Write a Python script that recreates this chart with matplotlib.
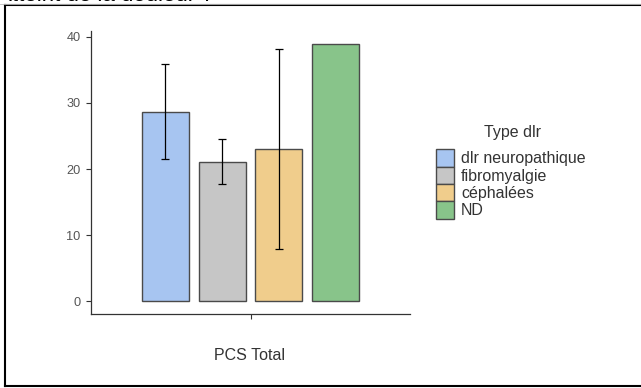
import matplotlib
matplotlib.use("Agg")
import matplotlib.pyplot as plt
from matplotlib.patches import Patch
from matplotlib.lines import Line2D

# data
types = ['dlr neuropathique', 'fibromyalgie', 'céphalées', 'ND']
means = [28.6, 21.1, 23.0, 39.0]
err_low = [21.5, 17.7, 7.9, None]
err_high = [35.9, 24.5, 38.1, None]
colors = ['#A7C5F1', '#C6C6C6', '#F0CD8C', '#88C48A']

plt.rcParams['font.family'] = ['Liberation Sans', 'DejaVu Sans']

fig = plt.figure(figsize=(6.41, 3.88), dpi=100)
ax = fig.add_axes([0.142, 0.1907, 0.4976, 0.7303])

pitch = 0.214
width = 0.177
for i, (t, m, c) in enumerate(zip(types, means, colors)):
    xc = 1 + (i - 1.5) * pitch
    ax.bar(xc, m, width=width, color=c, edgecolor='#4a4a4a', linewidth=1.0, zorder=2)
    if err_low[i] is not None:
        ax.errorbar(xc, m, yerr=[[m - err_low[i]], [err_high[i] - m]], fmt='none',
                    ecolor='black', elinewidth=0.9, capsize=3, capthick=0.9, zorder=3)

ax.set_xlim(0.4, 1.6)
ax.set_ylim(-1.95, 40.95)
ax.set_yticks([0, 10, 20, 30, 40])
ax.set_xticks([1])
ax.set_xticklabels([''])
ax.tick_params(axis='y', labelsize=9.2, labelcolor='#555555', color='#333333', length=3.5, width=0.8, pad=4)
ax.tick_params(axis='x', color='#333333', length=3.5, width=0.8)
for s in ['top', 'right']:
    ax.spines[s].set_visible(False)
for s in ['left', 'bottom']:
    ax.spines[s].set_color('#333333')
    ax.spines[s].set_linewidth(0.9)

fig.text(250 / 641, 1 - 355 / 388, 'PCS Total', ha='center', va='center', fontsize=11.5, color='#333333')

# legend: title placed separately, entries below
fig.text(513 / 641, 1 - 133 / 388, 'Type dlr', ha='center', va='center', fontsize=11.5, color='#333333')
handles = [Patch(facecolor=c, edgecolor='#4a4a4a', linewidth=1.0) for c in colors]
leg = fig.legend(handles, types, loc='upper left',
                 bbox_to_anchor=(433 / 641, 1 - 146 / 388), frameon=False,
                 fontsize=11.5, handlelength=1.1, handleheight=1.3,
                 labelspacing=0.0, handletextpad=0.45, borderaxespad=0, borderpad=0.2)
for t in leg.get_texts():
    t.set_color('#333333')

# screenshot frame and cut-off heading
fig.add_artist(Line2D([5 / 641, 5 / 641], [1 - 5 / 388, 1 - 386 / 388], transform=fig.transFigure, color='black', linewidth=1.5))
fig.add_artist(Line2D([5 / 641, 1.0], [1 - 5 / 388, 1 - 5 / 388], transform=fig.transFigure, color='black', linewidth=1.5))
fig.add_artist(Line2D([0.0, 1.0], [1 - 3.8 / 388, 1 - 3.8 / 388], transform=fig.transFigure, color='#bbbbbb', linewidth=0.6))
fig.add_artist(Line2D([5 / 641, 1.0], [1 - 386 / 388, 1 - 386 / 388], transform=fig.transFigure, color='black', linewidth=1.5))
fig.text(-3 / 641, 1 - 0.8 / 388, 'Atteint de la douleur ?', ha='left', va='baseline', fontsize=16, color='black')

fig.savefig('out.png', dpi=100)
